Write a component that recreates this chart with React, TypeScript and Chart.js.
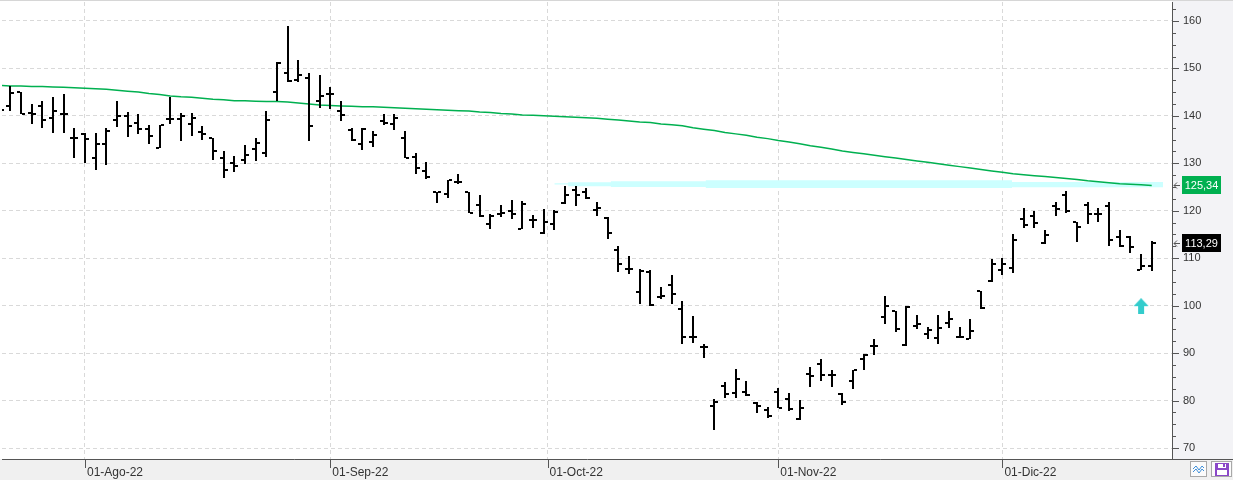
import React, { useEffect, useRef } from 'react';
import { Chart, registerables, BarController } from 'chart.js';

Chart.register(...registerables);

// ---- data (bar index -1 is the partially visible bar at the left edge) ----
const FIRST_BAR = -1;

const opens = [
  141.8,
  142.0, 145.0, 140.6, 142.0, 139.6, 140.3, 135.3, 136.2, 131.1, 134.0,
  139.1, 139.9, 138.4, 137.2, 133.2, 139.4, 139.4, 138.2, 136.6, 135.4,
  131.1, 130.0, 130.6, 133.0, 132.1, 145.1, 149.1, 147.6, 148.0, 143.2,
  144.5, 141.0, 137.1, 134.0, 134.5, 139.0, 138.2, 135.3, 131.3, 128.4,
  123.9, 123.5, 126.0, 123.9, 121.3, 117.3, 119.3, 120.0, 116.2, 118.1,
  115.3, 117.3, 121.6, 124.4, 123.9, 120.2, 118.5, 111.8, 107.8, 102.8,
  107.0, 101.8, 104.3, 99.3, 93.5, 91.2, 78.8, 83.0, 81.5, 81.9,
  79.5, 78.1, 81.8, 80.3, 76.1, 85.7, 87.7, 85.3, 81.3, 84.1,
  88.8, 91.4, 97.6, 98.8, 91.7, 95.8, 94.1, 93.2, 96.3, 93.4,
  93.0, 103.0, 105.1, 107.6, 108.0, 118.3, 119.0, 113.3, 120.9, 123.3,
  117.6, 121.2, 119.4, 121.1, 114.5, 114.5, 107.5, 108.3,
];

const highs = [
  142.8,
  146.2, 145.0, 142.6, 143.2, 144.0, 144.7, 137.4, 136.4, 136.4, 137.4,
  143.1, 140.8, 140.3, 138.0, 138.0, 143.9, 140.5, 140.5, 137.8, 135.4,
  132.6, 131.5, 133.8, 135.3, 141.0, 151.3, 159.0, 151.8, 149.1, 148.6,
  146.0, 143.2, 137.5, 137.5, 136.8, 140.3, 140.3, 136.8, 132.2, 130.3,
  124.0, 126.5, 127.7, 123.9, 123.3, 119.3, 121.2, 122.3, 122.0, 119.2,
  120.4, 120.2, 125.3, 125.3, 124.9, 121.8, 118.6, 112.5, 110.4, 107.7,
  107.5, 104.0, 106.4, 101.0, 97.9, 91.9, 80.4, 84.0, 86.7, 84.2,
  79.8, 78.7, 82.7, 81.5, 80.2, 87.1, 88.8, 86.4, 81.5, 86.4,
  89.9, 93.0, 102.0, 98.8, 100.0, 98.1, 95.6, 98.1, 98.9, 95.4,
  97.2, 103.0, 109.9, 110.0, 115.1, 120.6, 120.0, 116.0, 121.9, 124.2,
  117.7, 121.9, 120.5, 121.9, 116.0, 114.7, 110.8, 113.6,
];

const lows = [
  140.6,
  141.1, 140.3, 138.3, 137.5, 136.4, 136.4, 131.1, 130.1, 128.5, 129.7,
  137.7, 135.6, 136.1, 134.1, 133.2, 138.2, 134.8, 135.8, 135.0, 130.8,
  127.0, 128.1, 129.9, 130.4, 131.3, 143.1, 147.2, 147.2, 134.8, 141.7,
  141.4, 138.9, 134.8, 132.7, 133.4, 138.0, 137.1, 131.1, 127.7, 126.7,
  121.6, 122.7, 125.6, 119.5, 118.6, 116.2, 118.6, 118.3, 116.2, 116.4,
  115.2, 116.0, 121.4, 121.0, 122.5, 119.0, 114.0, 107.1, 106.6, 100.4,
  100.0, 101.5, 100.4, 91.9, 92.1, 88.9, 73.7, 80.6, 80.6, 81.0,
  77.3, 76.3, 78.4, 77.9, 75.9, 82.9, 84.1, 82.9, 79.0, 82.5,
  86.5, 89.5, 96.2, 94.4, 91.6, 95.1, 93.0, 92.0, 95.3, 93.2,
  93.0, 99.2, 105.0, 106.5, 106.9, 116.3, 116.3, 112.9, 119.0, 119.5,
  113.5, 117.3, 117.6, 112.6, 112.4, 111.1, 107.5, 107.4,
];

const closes = [
  141.2,
  144.9, 140.3, 140.4, 139.1, 141.1, 140.3, 135.4, 135.2, 134.0, 136.8,
  140.0, 137.8, 137.3, 135.7, 138.0, 139.4, 140.0, 139.6, 136.1, 132.5,
  128.6, 129.4, 131.8, 134.2, 139.1, 151.2, 147.4, 148.7, 137.8, 144.1,
  144.5, 140.1, 135.0, 137.3, 135.9, 138.4, 139.5, 131.2, 129.0, 127.2,
  123.9, 126.5, 126.1, 119.5, 119.0, 118.8, 119.6, 119.3, 121.4, 118.0,
  117.6, 119.7, 123.4, 123.3, 122.7, 120.6, 115.3, 108.7, 107.7, 107.3,
  100.2, 102.1, 102.5, 93.4, 93.4, 91.2, 79.8, 81.4, 84.5, 81.1,
  78.9, 76.8, 78.4, 78.2, 78.4, 85.2, 85.3, 85.3, 79.6, 86.4,
  89.7, 91.4, 100.0, 95.0, 99.8, 96.2, 94.8, 95.3, 97.2, 93.3,
  94.7, 99.6, 108.7, 108.7, 113.8, 117.0, 117.5, 114.8, 120.4, 119.9,
  116.5, 119.3, 119.4, 113.8, 112.6, 112.3, 108.3, 113.29,
];

const movingAverage = [
  146.4,
  146.3, 146.3, 146.2, 146.2, 146.1, 146.0, 145.9, 145.8, 145.7, 145.6,
  145.4, 145.2, 145.0, 144.7, 144.5, 144.2, 144.0, 143.9, 143.7, 143.5,
  143.4, 143.2, 143.2, 143.1, 143.0, 143.0, 142.9, 142.7, 142.5, 142.3,
  142.2, 142.1, 142.0, 141.9, 141.9, 141.8, 141.7, 141.6, 141.5, 141.4,
  141.3, 141.2, 141.1, 141.0, 140.8, 140.7, 140.5, 140.4, 140.2, 140.1,
  140.0, 139.9, 139.8, 139.7, 139.6, 139.5, 139.3, 139.1, 138.9, 138.7,
  138.6, 138.3, 138.1, 137.9, 137.5, 137.2, 136.9, 136.5, 136.2, 135.9,
  135.5, 135.2, 134.8, 134.5, 134.1, 133.7, 133.4, 133.0, 132.6, 132.3,
  132.0, 131.7, 131.4, 131.1, 130.8, 130.5, 130.2, 129.9, 129.6, 129.3,
  129.0, 128.7, 128.4, 128.1, 127.8, 127.6, 127.4, 127.2, 127.0, 126.8,
  126.6, 126.3, 126.1, 125.9, 125.7, 125.6, 125.5, 125.34,
];

// light cyan zone (stepped edges)
const bandIndex = [51.0, 52.3, 56.3, 65.2, 93.9, 108.06];
const bandUpper = [125.8, 126.01, 126.22, 126.43, 126.08, 126.08];
const bandLower = [125.53, 125.18, 125.03, 124.82, 124.97, 124.97];

// buy signal arrow
const signalIndex = [106];
const signalValue = [99.9];

// axes
const dateTickIndex = [7, 30, 50.36, 72, 93];
const dateTickLabels = ['01-Ago-22', '01-Sep-22', '01-Oct-22', '01-Nov-22', '01-Dic-22'];
const priceTicks = [70, 80, 90, 100, 110, 120, 130, 140, 150, 160];
const minorPriceTicks = [
  70, 72.5, 75, 77.5, 80, 82.5, 85, 87.5, 90, 92.5, 95, 97.5, 100, 102.5, 105, 107.5,
  110, 112.5, 115, 117.5, 120, 122.5, 125, 127.5, 130, 132.5, 135, 137.5, 140, 142.5,
  145, 147.5, 150, 152.5, 155, 157.5, 160, 162.5,
];

const X_MIN = -0.777;
const X_MAX = 108.9;
const Y_MIN = 67.69;
const Y_MAX = 163.99;

const FONT = "'Liberation Sans', Arial, sans-serif";
const W = 1233;
const H = 480;

const fmt = (v: number) => v.toFixed(2).replace('.', ',');

// OHLC bars: a bar controller whose elements are drawn as crisp high-low lines
// with open (left) and close (right) ticks, positioned by the chart's scales.
class OhlcController extends (BarController as any) {
  static id = 'ohlc';
  static defaults = {};
  draw() {
    const self: any = this;
    const meta = self._cachedMeta;
    const ctx: CanvasRenderingContext2D = self.chart.ctx;
    const vScale = meta.vScale;
    const ds: any = self.getDataset();
    const data: any[] = ds.data;
    ctx.save();
    ctx.fillStyle = ds.backgroundColor || '#000000';
    meta.data.forEach((el: any, i: number) => {
      const d = data[i];
      if (!d) return;
      const px = Math.round(el.x);
      const yh = Math.round(vScale.getPixelForValue(d.y[1]));
      const yl = Math.round(vScale.getPixelForValue(d.y[0]));
      ctx.fillRect(px - 1, yh, 2, Math.max(1, yl - yh));
      const yo = Math.round(vScale.getPixelForValue(d.o));
      const yc = Math.round(vScale.getPixelForValue(d.c));
      ctx.fillRect(px - 4, yo - 1, 3, 2);
      ctx.fillRect(px + 1, yc - 1, 3, 2);
    });
    ctx.restore();
  }
}
Chart.register(OhlcController as any);

const framePlugin = {
  id: 'frame',
  beforeDraw(chart: any) {
    const { ctx, width, height, chartArea: a } = chart;
    ctx.save();
    ctx.fillStyle = '#ffffff';
    ctx.fillRect(0, 0, width, height);
    ctx.fillStyle = '#f3f3f6';
    ctx.fillRect(a.right, 0, width - a.right, a.bottom);
    ctx.fillStyle = '#f0f0f0';
    ctx.fillRect(0, a.bottom, width, height - a.bottom);
    ctx.restore();
  },
  afterDraw(chart: any) {
    const { ctx, width, chartArea: a, scales } = chart;
    const xs = scales.x;
    const ys = scales.y;
    ctx.save();
    // top rule
    ctx.fillStyle = '#d6d6d6';
    ctx.fillRect(0, 0, width, 1);
    // bottom rule extension below the price axis
    ctx.fillStyle = '#555555';
    ctx.fillRect(a.right, Math.round(a.bottom), width - a.right, 1);
    // price axis tick marks
    for (const v of minorPriceTicks) {
      const py = Math.round(ys.getPixelForValue(v));
      const major = v % 10 === 0;
      ctx.fillRect(a.right + 1, py, major ? 6 : 3, 1);
    }
    // date tick marks
    for (const v of dateTickIndex) {
      const px = Math.round(xs.getPixelForValue(v));
      ctx.fillRect(px, Math.round(a.bottom) + 1, 1, 8);
    }
    // last value tags
    const last = closes.length - 1;
    const tags = [
      { value: movingAverage[last], bg: '#00b050' },
      { value: closes[last], bg: '#000000' },
    ];
    for (const t of tags) {
      const py = Math.round(ys.getPixelForValue(t.value));
      ctx.fillStyle = t.bg;
      ctx.fillRect(a.right + 10, py - 9, 39, 18);
      ctx.fillStyle = '#ffffff';
      ctx.font = `11px ${FONT}`;
      ctx.textAlign = 'center';
      ctx.textBaseline = 'middle';
      ctx.fillText(fmt(t.value), a.right + 29.5, py + 0.5);
      ctx.strokeStyle = '#555555';
      ctx.lineWidth = 1;
      ctx.beginPath();
      ctx.moveTo(a.right + 5, py - 2.5);
      ctx.lineTo(a.right + 2, py + 0.5);
      ctx.lineTo(a.right + 5, py + 3.5);
      ctx.moveTo(a.right + 2, py + 0.5);
      ctx.lineTo(a.right + 8, py + 0.5);
      ctx.stroke();
    }
    // toolbar buttons (bottom right)
    const by = Math.round(a.bottom) + 2;
    ctx.fillStyle = '#fbfbfb';
    ctx.fillRect(1190, by, 17, 16);
    ctx.fillRect(1211, by, 21, 16);
    ctx.strokeStyle = '#a8a8a8';
    ctx.strokeRect(1190.5, by + 0.5, 16, 15);
    ctx.strokeRect(1211.5, by + 0.5, 20, 15);
    ctx.strokeStyle = '#3f8fd9';
    ctx.beginPath();
    ctx.moveTo(1193, by + 8);
    ctx.lineTo(1196, by + 5);
    ctx.lineTo(1199, by + 9);
    ctx.lineTo(1202, by + 5);
    ctx.lineTo(1204, by + 7);
    ctx.moveTo(1193, by + 11);
    ctx.lineTo(1196, by + 8);
    ctx.lineTo(1199, by + 12);
    ctx.lineTo(1202, by + 8);
    ctx.lineTo(1204, by + 10);
    ctx.stroke();
    ctx.fillStyle = '#8a47c8';
    ctx.fillRect(1215, by + 2, 14, 13);
    ctx.fillStyle = '#ffffff';
    ctx.fillRect(1218, by + 3, 8, 4);
    ctx.fillRect(1217, by + 9, 10, 5);
    ctx.fillStyle = '#8a47c8';
    ctx.fillRect(1223, by + 3, 2, 3);
    ctx.restore();
  },
};

export default function App() {
  const ref = useRef<HTMLCanvasElement>(null);

  useEffect(() => {
    const canvas = ref.current;
    if (!canvas) return;

    const arrowImg = document.createElement('canvas');
    arrowImg.width = 16;
    arrowImg.height = 16;
    const g = arrowImg.getContext('2d');
    if (g) {
      g.fillStyle = '#33cccc';
      g.beginPath();
      g.moveTo(8, 0);
      g.lineTo(15.5, 8);
      g.lineTo(0.5, 8);
      g.closePath();
      g.fill();
      g.fillRect(5, 8, 6, 8);
    }

    const barIndex = opens.map((_, k) => FIRST_BAR + k);

    const chart = new Chart(canvas, {
      type: 'bar',
      data: {
        datasets: [
          {
            type: 'ohlc',
            label: 'OHLC',
            data: barIndex.map((x, k) => ({ x, y: [lows[k], highs[k]], o: opens[k], c: closes[k] })),
            backgroundColor: '#000000',
            borderWidth: 0,
            barThickness: 2,
            order: 1,
          } as any,
          {
            type: 'line',
            label: 'Media',
            data: barIndex.map((x, k) => ({ x, y: movingAverage[k] })),
            borderColor: '#00b050',
            borderWidth: 1.5,
            pointRadius: 0,
            tension: 0,
            fill: false,
            order: 2,
          } as any,
          {
            type: 'line',
            label: 'Signal',
            data: signalIndex.map((x, k) => ({ x, y: signalValue[k] })),
            showLine: false,
            pointStyle: arrowImg,
            pointRadius: 1,
            pointHoverRadius: 1,
            order: 0,
          } as any,
          {
            type: 'line',
            label: 'Zone top',
            data: bandIndex.map((x, k) => ({ x, y: bandUpper[k] })),
            stepped: 'before',
            fill: '+1',
            backgroundColor: '#ccffff',
            borderColor: 'rgba(0,0,0,0)',
            borderWidth: 0,
            pointRadius: 0,
            order: 3,
          } as any,
          {
            type: 'line',
            label: 'Zone bottom',
            data: bandIndex.map((x, k) => ({ x, y: bandLower[k] })),
            stepped: 'before',
            fill: false,
            borderColor: 'rgba(0,0,0,0)',
            borderWidth: 0,
            pointRadius: 0,
            order: 3,
          } as any,
        ],
      },
      options: {
        responsive: false,
        maintainAspectRatio: false,
        animation: false,
        devicePixelRatio: 1,
        events: [],
        layout: { padding: 0 },
        plugins: {
          legend: { display: false },
          tooltip: { enabled: false },
        },
        scales: {
          x: {
            type: 'linear',
            position: 'bottom',
            min: X_MIN,
            max: X_MAX,
            offset: false,
            afterBuildTicks: (s: any) => {
              s.ticks = dateTickIndex.map((v) => ({ value: v }));
            },
            afterFit: (s: any) => {
              s.height = 21;
              s.paddingLeft = 0;
              s.paddingRight = 0;
            },
            ticks: {
              autoSkip: false,
              maxRotation: 0,
              minRotation: 0,
              align: 'start',
              labelOffset: 2,
              padding: 6,
              color: '#333333',
              font: { family: FONT, size: 12 },
              callback: (_v: any, i: number) => dateTickLabels[i],
            },
            grid: { color: '#d9d9d9', lineWidth: 1, drawTicks: false, offset: false },
            border: { display: true, color: '#555555', width: 1, dash: [4, 3] },
          },
          y: {
            type: 'linear',
            position: 'right',
            min: Y_MIN,
            max: Y_MAX,
            afterBuildTicks: (s: any) => {
              s.ticks = priceTicks.map((v) => ({ value: v }));
            },
            afterFit: (s: any) => {
              s.width = 61;
              s.paddingTop = 0;
              s.paddingBottom = 0;
            },
            ticks: {
              padding: 11,
              color: '#333333',
              font: { family: FONT, size: 11 },
              callback: (v: any) => String(v),
            },
            grid: { color: '#d9d9d9', lineWidth: 1, drawTicks: false },
            border: { display: true, color: '#555555', width: 1, dash: [4, 3] },
          },
        },
      } as any,
      plugins: [framePlugin],
    });

    return () => chart.destroy();
  }, []);

  return (
    <div style={{ position: 'fixed', left: 0, top: 0, width: W, height: H, background: '#ffffff' }}>
      <canvas ref={ref} width={W} height={H} style={{ display: 'block', width: W, height: H }} />
    </div>
  );
}
